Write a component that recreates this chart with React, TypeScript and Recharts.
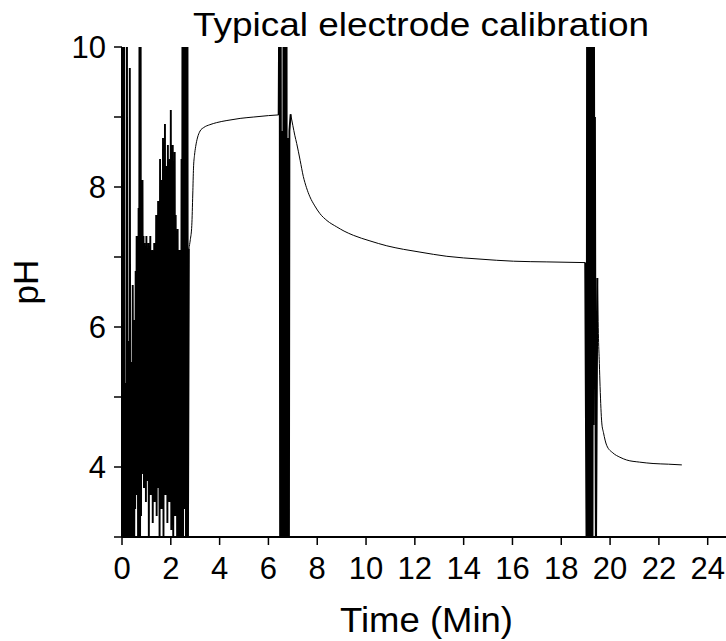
import { Line, LineChart, XAxis, YAxis } from "recharts";

// noisy start, sampled every 0.02 min from t = 0
const NOISE_START_STEP = 0.02;
const noiseStartValues = [
  4.6, 2.5, 5.6, 2.0, 12, 2.0, 4.1, 2.8, 5.2, 3.3,
  12, 2.0, 4.5, 3.2, 5.8, 2.4, 9.7, 3.4, 4.9, 2.6,
  5.5, 3.0, 6.6, 3.9, 5.3, 2.7, 6.1, 3.4, 6.8, 3.6,
  7.3, 4.4, 6.2, 2.8, 7.7, 4.0, 12, 2.5, 12, 3.3,
  7.6, 3.9, 8.1, 4.3, 7.3, 3.7, 7.2, 4.6, 6.9, 3.5,
  7.3, 4.1, 7.0, 3.8, 7.2, 2.9, 6.8, 4.4, 7.3, 3.6,
  6.6, 4.0, 7.1, 3.2, 6.9, 4.7, 7.2, 3.5, 7.0, 4.2,
  7.6, 3.3, 7.3, 4.5, 7.8, 3.7, 7.4, 2.8, 8.4, 4.1,
  7.6, 3.4, 8.1, 4.6, 8.7, 3.0, 8.0, 4.3, 8.9, 3.6,
  7.9, 4.8, 8.3, 3.2, 8.6, 4.0, 7.8, 3.5, 8.4, 4.4,
  9.1, 3.1, 8.2, 3.9, 8.6, 2.9, 7.9, 4.2, 8.5, 3.3,
  7.6, 3.8, 7.2, 2.7, 7.4, 3.5, 6.9, 2.9, 7.1, 3.2,
  6.6, 2.6, 8.4, 2.8, 12, 2.5, 12, 3.4, 12, 4.3,
  12, 2.6, 12, 3.9, 12, 2.5,
];

// buffer 4 -> 9 step
const riseTimes = [2.74, 2.8, 2.86, 2.9, 2.93, 2.97, 3.02, 3.09, 3.2, 3.35, 3.6, 3.88, 4.3, 4.84, 5.4, 6.0, 6.42];
const riseValues = [7.12, 7.25, 7.45, 7.9, 8.27, 8.45, 8.58, 8.7, 8.8, 8.85, 8.89, 8.92, 8.95, 8.98, 9.0, 9.02, 9.03];

// electrode moved, first transfer
const SPIKE_A_START = 6.46;
const SPIKE_STEP = 0.02;
const spikeAValues = [12, 2.5, 12, 5.4, 8.8, 2.5, 8.6, 2.4, 12, 2.6, 12, 2.5, 8.9, 2.6, 12, 2.4, 8.5, 2.5, 8.7, 2.6, 8.8];

// buffer 9 -> 7 decay
const decayTimes = [6.91, 7.0, 7.08, 7.16, 7.3, 7.43, 7.56, 7.7, 7.9, 8.11, 8.4, 8.8, 9.1, 9.48, 10.16, 10.85, 11.53, 12.21, 13.31, 14.67, 16.04, 17.41, 18.98];
const decayValues = [9.04, 8.88, 8.74, 8.62, 8.38, 8.15, 7.99, 7.86, 7.73, 7.62, 7.52, 7.43, 7.37, 7.31, 7.23, 7.16, 7.11, 7.07, 7.01, 6.97, 6.94, 6.93, 6.92];

// second transfer
const SPIKE_B_START = 19.04;
const spikeBValues = [2.5, 12, 2.4, 12, 2.6, 12, 2.5, 12, 3.0, 12, 2.7, 12, 2.5, 12, 4.6, 10.5, 6.3, 9.0, 5.2, 2.5];

// buffer 7 -> 4
const finalTimes = [19.48, 19.52, 19.56, 19.59, 19.66, 19.73, 19.86, 20.12, 20.4, 20.68, 21.2, 21.76, 22.4, 22.94];
const finalValues = [6.7, 5.91, 5.48, 5.15, 4.63, 4.49, 4.31, 4.2, 4.14, 4.1, 4.07, 4.05, 4.04, 4.03];

const xTicks = [0, 2, 4, 6, 8, 10, 12, 14, 16, 18, 20, 22, 24];
const yTicks = [3, 4, 5, 6, 7, 8, 9, 10];

const FONT = "'Liberation Sans', Arial, sans-serif";

type Pt = { t: number; noise?: number; smooth?: number };

const noisy = (vals: number[], start: number, step: number): Pt[] =>
  vals.map((v, i) => ({ t: +(start + i * step).toFixed(3), noise: v }));

// smooth stretches; end points also belong to the noisy trace so the two join up
const smooth = (ts: number[], vs: number[]): Pt[] =>
  ts.map((t, i) => (i === 0 || i === ts.length - 1 ? { t, noise: vs[i], smooth: vs[i] } : { t, smooth: vs[i] }));

const data: Pt[] = [
  ...noisy(noiseStartValues, 0, NOISE_START_STEP),
  ...smooth(riseTimes, riseValues),
  ...noisy(spikeAValues, SPIKE_A_START, SPIKE_STEP),
  ...smooth(decayTimes, decayValues),
  ...noisy(spikeBValues, SPIKE_B_START, SPIKE_STEP),
  ...smooth(finalTimes, finalValues),
];

export default function App() {
  return (
    <div style={{ position: "absolute", left: 0, top: 0, width: 726, height: 641, background: "#fff" }}>
      <LineChart width={726} height={641} data={data} margin={{ top: 47, right: 0, left: 0, bottom: 0 }}>
        <XAxis
          dataKey="t"
          type="number"
          domain={[0, 24.75]}
          ticks={xTicks}
          allowDataOverflow
          height={104}
          interval={0}
          tickSize={8}
          tickMargin={12}
          axisLine={{ stroke: "#000", strokeWidth: 2 }}
          tickLine={{ stroke: "#000", strokeWidth: 1.5 }}
          tick={{ fill: "#000", fontSize: 31, fontFamily: FONT }}
        />
        <YAxis
          type="number"
          domain={[3, 10]}
          ticks={yTicks}
          allowDataOverflow
          width={122}
          interval={0}
          tickSize={8}
          tickMargin={8}
          axisLine={{ stroke: "#000", strokeWidth: 2 }}
          tickLine={{ stroke: "#000", strokeWidth: 1.5 }}
          tick={{ fill: "#000", fontSize: 31, fontFamily: FONT }}
          tickFormatter={(v: number) => (v % 2 === 0 && v >= 4 ? String(v) : "")}
        />
        <Line
          type="linear"
          dataKey="noise"
          stroke="#000"
          strokeWidth={1.9}
          dot={false}
          activeDot={false}
          connectNulls={false}
          isAnimationActive={false}
        />
        <Line
          type="monotone"
          dataKey="smooth"
          stroke="#000"
          strokeWidth={1}
          dot={false}
          activeDot={false}
          connectNulls={false}
          isAnimationActive={false}
        />
      </LineChart>
      <svg width={726} height={641} style={{ position: "absolute", left: 0, top: 0, pointerEvents: "none" }}>
        <text x={193} y={36} fontFamily={FONT} fontSize={33} textLength={456} lengthAdjust="spacingAndGlyphs" fill="#000">
          Typical electrode calibration
        </text>
        <text x={340} y={632} fontFamily={FONT} fontSize={35} textLength={173} lengthAdjust="spacingAndGlyphs" fill="#000">
          Time (Min)
        </text>
        <text x={38} y={282} transform="rotate(-90 38 282)" textAnchor="middle" fontFamily={FONT} fontSize={35} fill="#000">
          pH
        </text>
      </svg>
    </div>
  );
}
